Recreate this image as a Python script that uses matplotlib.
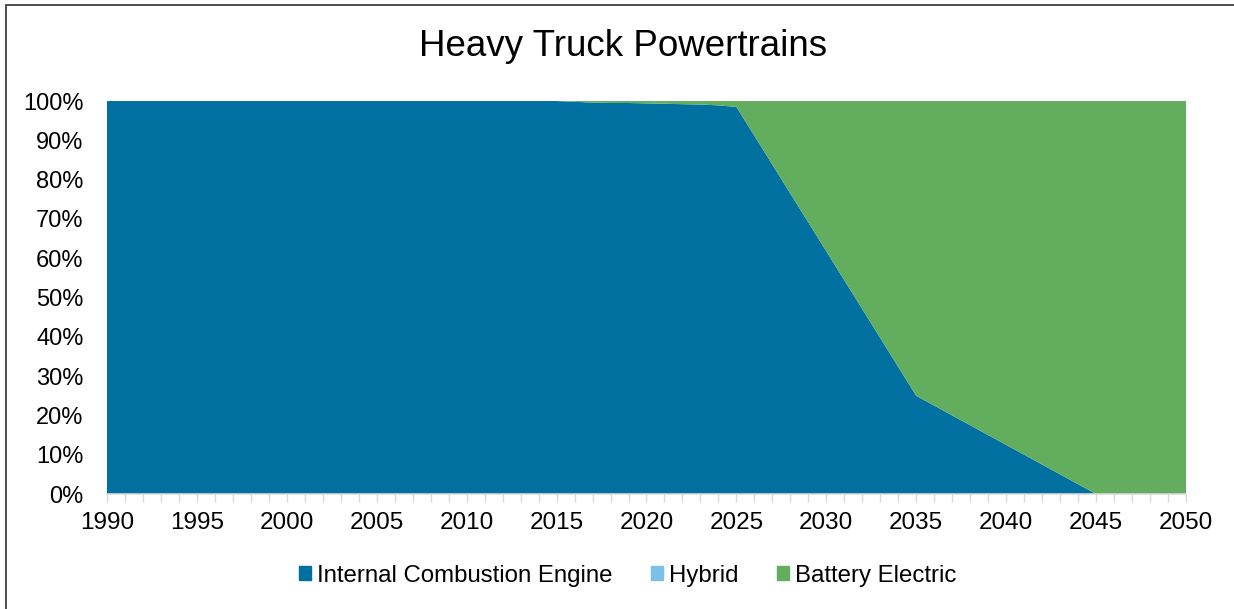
import matplotlib.pyplot as plt
import matplotlib.patches as mpatches
from matplotlib.ticker import MultipleLocator, PercentFormatter

plt.rcParams['font.family'] = ['Liberation Sans', 'DejaVu Sans']

years = [1990, 2015, 2016, 2017, 2018, 2019, 2020, 2021, 2022, 2023, 2024, 2025, 2035, 2045, 2050]
ice = [100, 100, 99.8, 99.6, 99.5, 99.5, 99.4, 99.3, 99.2, 99.1, 98.9, 98.5, 25, 0, 0]
hybrid = [0] * len(years)
bev = [100 - a - b for a, b in zip(ice, hybrid)]

labels = ['Internal Combustion Engine', 'Hybrid', 'Battery Electric']
colors = ['#0070A0', '#7CC0E8', '#63AE5E']

fig = plt.figure(figsize=(12.34, 6.09), dpi=100)
ax = fig.add_axes([0.0867, 0.1888, 0.8744, 0.6453])

ax.stackplot(years, ice, hybrid, bev, colors=colors, labels=labels, linewidth=0)

ax.set_xlim(1990, 2050)
ax.set_ylim(0, 100)
ax.xaxis.set_major_locator(MultipleLocator(5))
ax.xaxis.set_minor_locator(MultipleLocator(1))
ax.yaxis.set_major_locator(MultipleLocator(10))
ax.yaxis.set_major_formatter(PercentFormatter(decimals=0))

for s in ['top', 'right', 'left']:
    ax.spines[s].set_visible(False)
ax.spines['bottom'].set_color('#D9D9D9')
ax.spines['bottom'].set_linewidth(1.2)
ax.tick_params(axis='x', which='both', direction='out', length=6, width=1,
               color='#D9D9D9', labelsize=17.5, pad=7)
ax.tick_params(axis='y', length=0, labelsize=17, pad=17)

fig.text(0.505, 0.923, 'Heavy Truck Powertrains', ha='center', va='center', fontsize=26.5)

handles = [mpatches.Patch(color=c) for c in colors]
fig.legend(handles, labels, loc='center', bbox_to_anchor=(0.509, 0.055), ncol=3,
           frameon=False, fontsize=17.3, handlelength=0.5, handleheight=0.5,
           handletextpad=0.25, columnspacing=1.6)

# outer chart border
fig.patches.append(mpatches.Rectangle((6 / 1234, -0.1), 1.2, 1.1 - 5 / 609, transform=fig.transFigure,
                                      fill=False, edgecolor='#404040', linewidth=1.3))

fig.savefig('out.png', dpi=100)
